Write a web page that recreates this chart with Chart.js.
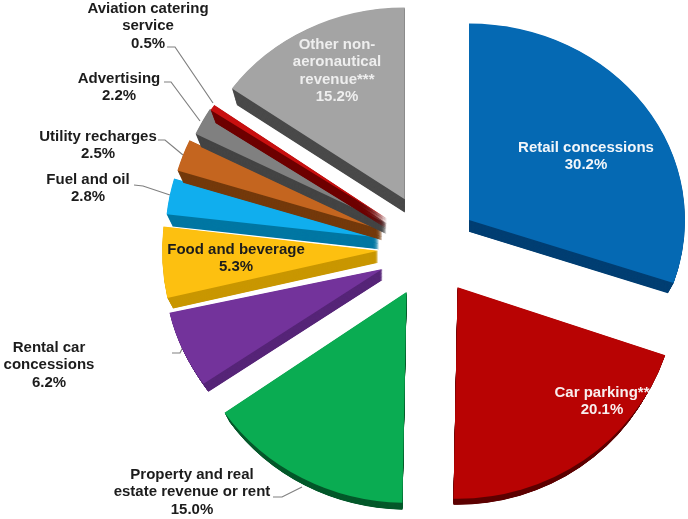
<!DOCTYPE html>
<html>
<head>
<meta charset="utf-8">
<title>Non-aeronautical revenue</title>
<script src="https://cdn.jsdelivr.net/npm/chart.js@4"></script>
<style>
  html, body { margin: 0; padding: 0; background: #fff; }
  #wrap { width: 688px; height: 519px; overflow: hidden; }
  canvas { display: block; filter: blur(0.45px); }
</style>
</head>
<body>
<div id="wrap"><canvas id="revenueChart" width="688" height="519"></canvas></div>
<script>
// Data
const categories = ['Retail concessions', 'Car parking**', 'Property and real estate revenue or rent',
    'Rental car concessions', 'Food and beverage', 'Fuel and oil', 'Utility recharges',
    'Advertising', 'Aviation catering service', 'Other non-aeronautical revenue***'];
const shares = [30.2, 20.1, 15.0, 6.2, 5.3, 2.8, 2.5, 2.2, 0.5, 15.2];

// Slice styling
const topColors = ['#0569b3', '#b80303', '#0aac52', '#73339b', '#fdc010', '#10aeee', '#c4651f', '#808080', '#c80f0f', '#a4a4a4'];
const sideColors = ['#003f73', '#5e0000', '#05592b', '#562578', '#c99700', '#0077a3', '#743a0c', '#444444', '#6e0000', '#4a4a4a'];
const explode = [48, 48, 50, 52, 52, 52, 51, 50, 52, 55]; // the arc element's own offset also narrows small slices, so move them here
const tilt = [0.91, 0.965, 0.95, 0.92, 1.0, 0.97, 0.97, 0.98, 0.93, 0.905];
const sliceScale = [1, 1.015, 1.027, 1.01, 1, 0.99, 0.99, 0.98, 0.98, 0.98];
const sideDepth = [13, 12, 13, 12, 12, 12, 11, 11, 11, 15];
const sideShrink = 6;

// Text placement, one entry per category
const labelLines = [['Retail concessions'], ['Car parking**'], ['Property and real', 'estate revenue or rent'],
    ['Rental car', 'concessions'], ['Food and beverage'], ['Fuel and oil'], ['Utility recharges'],
    ['Advertising'], ['Aviation catering', 'service'], ['Other non-', 'aeronautical', 'revenue***']];
const labelX = [586, 602, 192, 49, 236, 88, 98, 119, 148, 337];
const labelY = [148, 393, 475, 348, 250, 180, 137, 79, 9, 45];
const labelColors = ['#f2f6fa', '#f8eeee', '#1c1c1c', '#1c1c1c', '#1c1c1c', '#1c1c1c', '#1c1c1c', '#1c1c1c', '#1c1c1c', '#eeeeee'];
const leaders = [
    [[273, 497], [282, 497], [302, 487]],
    [[172, 353], [180, 353], [183, 347]],
    [[134, 185], [143, 186], [170, 195]],
    [[158, 140], [165, 140], [183, 155]],
    [[164, 82], [171, 82], [200, 121]],
    [[167, 47], [175, 47], [213, 103]]
];

// Pull the slice out of the pie and squash it around its tip (perspective of the picture)
function placeSlice(ctx, arc, index) {
    const mid = (arc.startAngle + arc.endAngle) / 2;
    ctx.translate(arc.x + Math.cos(mid) * explode[index], arc.y + Math.sin(mid) * explode[index]);
    ctx.scale(sliceScale[index], sliceScale[index] * tilt[index]);
    ctx.translate(-arc.x, -arc.y);
}

const pie3d = {
    id: 'pie3d',
    beforeDatasetsDraw(chart) {
        const ctx = chart.ctx;
        ctx.save();
        ctx.strokeStyle = '#808080';
        ctx.lineWidth = 1.2;
        leaders.forEach(points => {
            ctx.beginPath();
            points.forEach((p, i) => i ? ctx.lineTo(p[0], p[1]) : ctx.moveTo(p[0], p[1]));
            ctx.stroke();
        });
        ctx.restore();
    },
    beforeDatasetDraw(chart, args) {
        const ctx = chart.ctx;
        args.meta.data.forEach((arc, i) => {
            ctx.save();
            placeSlice(ctx, arc, i);
            // side wall: sweep the slice downwards, a bit smaller each step
            ctx.fillStyle = sideColors[i];
            for (let d = sideDepth[i]; d > 0; d -= 0.5) {
                const r = arc.outerRadius - sideShrink * d / sideDepth[i];
                ctx.beginPath();
                ctx.moveTo(arc.x, arc.y + d);
                ctx.arc(arc.x, arc.y + d, r, arc.startAngle, arc.endAngle);
                ctx.closePath();
                ctx.fill();
            }
            arc.draw(ctx, chart.chartArea);
            ctx.restore();
        });
        return false;
    },
    afterDatasetsDraw(chart) {
        const ctx = chart.ctx;
        ctx.save();
        ctx.font = 'bold 15px "Liberation Sans", Arial, sans-serif';
        ctx.textAlign = 'center';
        ctx.textBaseline = 'middle';
        categories.forEach((name, i) => {
            ctx.fillStyle = labelColors[i];
            const lines = labelLines[i].concat(shares[i].toFixed(1) + '%');
            lines.forEach((line, n) => ctx.fillText(line, labelX[i], labelY[i] + n * 17.3));
        });
        ctx.restore();
    }
};

new Chart(document.getElementById('revenueChart'), {
    type: 'pie',
    data: {
        labels: categories,
        datasets: [{
            data: shares,
            backgroundColor: topColors,
            borderWidth: 0,
            radius: 216
        }]
    },
    options: {
        responsive: false,
        animation: false,
        layout: { padding: { left: 172, right: 0, top: 0, bottom: 23 } },
        plugins: { legend: { display: false }, tooltip: { enabled: false } }
    },
    plugins: [pie3d]
});
</script>
</body>
</html>
